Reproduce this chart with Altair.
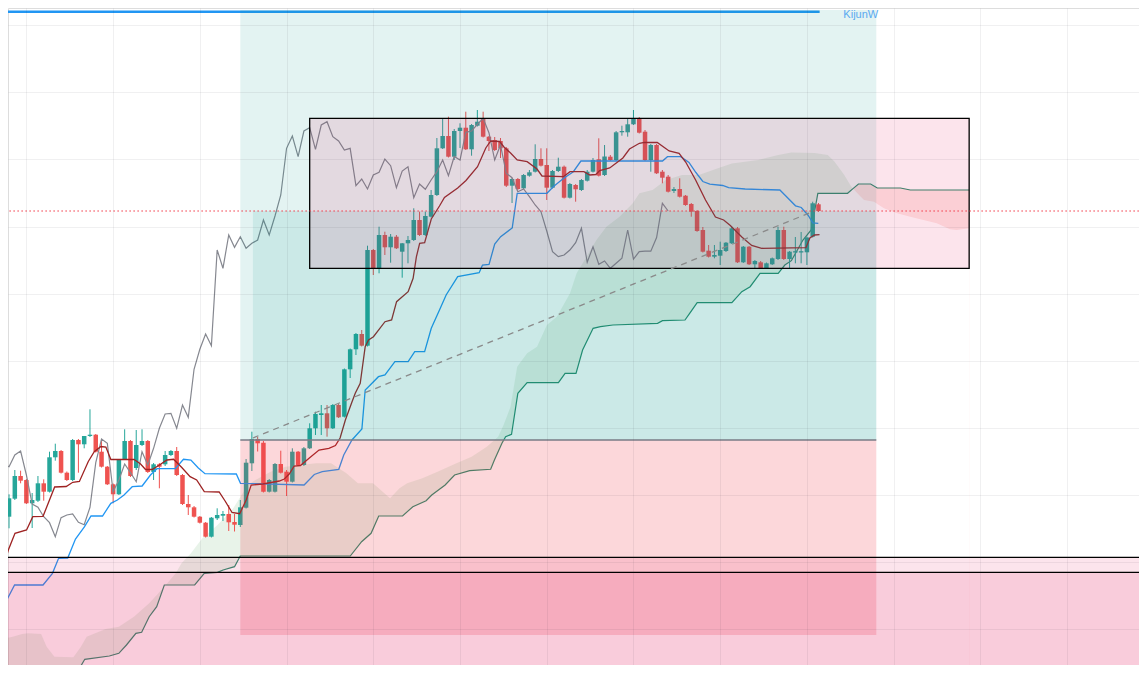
import altair as alt
import pandas as pd

# ---------------- candles (bar index 0..140), price units ----------------
opens = [156.3,174.3,197,193,169.7,172.3,189.7,181.3,215.7,222,
         200.3,193,233,228.7,237,238.3,221.3,206.3,188.7,178.7,
         213.7,232,205,228,232,201,208.7,208.7,218,222,
         198,169,165.7,156.3,150.3,136.3,154.7,157.3,159,151,
         148,165.3,209.7,234,230.3,181.3,181.3,209,201.3,191.3,
         221.3,208,224.7,244.7,258,259.7,244.7,268,256.3,303.7,
         323.7,339,327.3,423,404.7,438,425.7,436.3,421.3,429.7,
         433,453,438,456.3,478,524.7,537,516.3,542,545.3,
         523.7,547.3,554,536.3,533,532,524.7,487.3,494,484.7,
         497.3,501.3,514,508,485.3,502,506.3,475.3,488,483,
         492.3,501.3,513.7,498,516.3,513,540.7,540.7,548.7,554.7,
         541.3,513,528,501.3,496.3,482,484,477.3,469,462,
         443,422.3,416.3,417.3,422,429.7,444.7,410.7,426.3,408.7,
         410.7,404.7,408.7,414,443,414,420.5,420.5,420.7,436.3,
         468.7]
highs = [178.7,203,202.3,194,180,197,193.7,221.3,229.3,223,
         201.5,234,234,237,263.7,239,232,207,189.5,214,
         243.7,233,243,243.7,233,210,210,222,223,226,
         199,178,167,157,151,156,164.7,162,168,159,
         173,214,241.3,236,232,194,210,222.3,203,224.7,
         222,226,249.7,261.3,268,268,269,269,304.5,324.5,
         340,343,427.3,424,446.3,441.3,439,438,430,437,
         464.7,461.3,461.3,483,535,555,556.3,544,549.7,561.3,
         549,563,561.3,537,536,535,526,495,495,499,
         503,528.7,524.7,524.7,503,515.3,507.5,490,489,494,
         503,515,534.7,528,518,542,547.3,554.7,563,556,
         543,529,529,503,498,486,494.7,478,470,463,
         446,428,428,431.3,431,446.3,446,427,427,413,
         412,410.5,415.5,446.3,446.3,422,436,441,436.3,471.3,
         470]
lows = [144.7,173,189.7,169,145,171,172.3,180.5,212.3,199.5,
        192,192,200.3,224.7,236,220.5,205.5,188,169.7,178,
        213,196,203,227,200,193,184.7,207,217,197,
        168,158,155.5,149.5,135.5,135.5,153,152,142,141.5,
        146,164.5,202,221.5,180.5,180.5,180.5,199.5,177,190.5,
        207.2,207,224,238,238,236.3,244,255,255.5,295,
        318,326.5,326.5,398,399.7,418,410.3,424,395.3,409.7,
        432,437,437,455.5,477,524,515.5,513,525,523,
        517.3,546.5,535.5,522,522,515,486,470,483,484,
        496.3,500.5,506.5,473,484.5,501,474.5,474.5,471.3,482,
        491.5,500.5,496.5,497,512,512,537.3,536.3,548,539.5,
        512,501.3,499,489.7,480.5,480,475.5,467.2,456.3,441.2,
        420.5,415.5,414.7,408,421,429,410,410,408,404.7,
        404,404,408,413,413,405,409.7,409.7,408,435.5,
        461]
closes = [174.7,197,192.3,169.7,173,189.7,181.3,215.7,222,200.3,
          193,233,228.7,237,238.3,221.3,206.3,188.7,178.7,213.7,
          232,197,228,232,201,208.7,206.3,218,222,198,
          169,165.7,156.3,150.3,136.3,155.3,158,159,150.7,148.3,
          165.7,210.3,234,229.7,181.3,193,209,200.3,191.3,221.3,
          208,224.7,244.7,259,259.7,244.7,268,255.7,303.7,323.7,
          339,327.3,423,404.7,438,425.7,436.3,424.7,429.7,433,
          453,438,457,478,524.7,537,516.3,542,545.3,523.7,
          548,551.3,536.3,532,523,524.7,487.3,494,484,498,
          500.7,514,507.3,485.3,502,506.3,475.3,489,483.7,493,
          501.3,513,497.3,516.5,513,540.7,542,548.7,554.7,540.3,
          513,528,499.7,495.3,481.3,484,476.3,468,461.3,442,
          421.3,416.3,418,423,430.3,444.7,410.7,426.3,408.7,412,
          404.7,409.7,414.7,443,414,421.3,421.8,421.8,435.5,469.7,
          462]

# ---------------- indicator lines (bar, price) ----------------
tenkan = [(-0.69,111.3),(-0.12,123),(1.03,139.7),(3.03,143),(4.11,156.3),(5.88,156.7),(7.89,186),
          (9.89,186.5),(11.02,190.7),(12.17,191.5),(13.71,211.5),(14.74,221.3),(15.89,226.5),
          (16.75,226),(17.61,213.5),(21.6,213.7),(22.75,209),(23.61,203.5),(24.74,203.5),
          (25.89,207.5),(27.31,213),(28.46,213.7),(29.88,205.5),(31.32,196.3),(32.45,193),
          (33.77,181.3),(36.34,181),(37.37,172),(38.57,160.5),(39.89,159.3),(41.02,173),
          (41.88,188),(43.89,189),(46.75,192),(47.61,194),(48.46,199),(49.32,207),(50.4,207.5),
          (51.89,214.7),(53.61,223),(55.32,224.7),(56.45,227.5),(57.26,235),(58.17,253),
          (59.31,271),(59.88,279.7),(60.74,289.7),(61.6,326.3),(62.18,333),(63.03,336.3),
          (65.02,351.3),(66.17,353),(67.03,371.3),(69.03,381.3),(69.89,394.7),(70.46,416.3),
          (71.02,429.7),(71.88,430.3),(73.03,454),(74.45,467),(75.31,475.5),(77.6,485),
          (79.03,492.5),(81.03,506.3),(82.46,525),(83.31,532),(84.86,531.5),(85.6,526),
          (86.74,520),(87.89,513),(89.61,511.3),(91.32,504),(92.18,497),(95.88,496.3),
          (97.03,501.3),(99.43,501.3),(100.46,498),(101.49,498.5),(102.17,502.5),(103.89,505),
          (105.03,510),(106.17,515),(107.31,524),(109.03,529.7),(109.89,530.7),(112.11,530.5),
          (114.17,522),(115.89,519.7),(117.03,511),(118.75,493),(120.46,473),(122.18,456),
          (123.6,453),(124.75,447.5),(126.74,436),(128.45,427.5),(130.17,424.7),(137.83,425.3),
          (138.51,435),(139.32,438),(140.18,438.3)]

kijun = [(-0.69,69.7),(0.96,88),(5.88,88),(7.51,99.7),(8.57,114.7),(10.15,115),(11.49,134),
         (13.06,146.3),(14.18,157),(16.17,157),(17.61,169.7),(18.74,173),(19.89,178),(21.31,186.3),
         (23.02,187),(24.46,198),(25.59,204.3),(28.75,204.3),(30.17,213.7),(31.46,213),(32.74,205),
         (33.89,199.3),(39.31,199),(40.03,189.7),(51.03,188),(52.8,198.5),(54.17,201.3),
         (57.03,203.7),(57.89,218),(59.31,233),(61.03,244),(61.6,283),(62.18,286.3),(63.89,296.3),
         (65.02,298),(66.74,311.3),(69.03,311.3),(70.17,321.3),(71.88,321.3),(73.03,344.7),
         (74.45,363),(75.6,378),(77.6,396.3),(81.31,400.3),(81.89,408),(83.02,408.5),(84,429),
         (85.03,436.3),(87.03,445),(87.89,479.7),(93.03,479.7),(94.17,486.5),(95.88,494.5),
         (97.6,501.3),(98.91,512),(113.02,512),(113.88,516.3),(116.17,516.3),(117.6,510.5),
         (118.8,500.5),(120,491.5),(121.2,488.8),(123.43,487.5),(124.46,485.3),(127.32,484),
         (133.32,483),(134.31,477.2),(136.03,467.2),(137.02,465.5),(138.17,458),(139.03,450.2),
         (139.97,449.7)]

# leading span drawn with a line (teal) and the unlined cloud edge
span_line = [(6.86,0.7),(11.78,0.7),(13.1,13.7),(17.35,17),(18.99,19.7),(20.31,28),(21.94,39.7),
             (22.94,40.7),(24.24,56.3),(25.54,66.3),(26.86,88),(32.11,88),(33.77,99.7),(36.05,100.7),
             (37.03,103),(39,106.3),(39.99,117),(59.02,117),(60.98,131.3),(62.62,139.7),(63.94,157),
             (68.06,157),(69.84,166.3),(72.14,172.3),(73.11,178),(75.43,188),(77.06,198),(79.68,202.3),
             (83.3,203.7),(83.95,213),(85.25,229.7),(85.89,236.3),(86.91,238.7),(88,279.7),
             (89.61,290.3),(95.02,290.3),(96.17,299.7),(98.06,299.7),(99.2,323),(101.02,344.7),
             (102.29,346.3),(104.45,348),(112.17,349.7),(113.02,352.3),(116.91,353),(117.72,359.7),
             (119.02,370.3),(125.02,370.3),(126.74,381.3),(128.18,386.3),(129.89,399.7),
             (133.03,399.7),(134.18,408),(135.31,412.3),(137.32,433),(138.74,443),(139.89,479.7),
             (145.03,479.7),(145.97,484.4),(146.91,489),(149.02,489),(150.17,485),(154.17,485),
             (155.88,483),(166.06,483)]
span_edge = [(-0.69,34.7),(0.63,36.3),(2.26,39),(3.26,39.7),(5.55,39),(6.51,26.3),(7.85,16.3),
             (11.13,15.7),(12.43,26.3),(13.42,36.3),(16.7,44),(18.99,46.3),(21.6,56.3),(24.24,69.7),
             (26.86,86.3),(28.83,99.7),(29.83,109.7),(31.46,119.7),(33.43,134.7),(36.05,148),
             (38.67,163.7),(41.31,188),(42.62,193),(45.26,201.3),(47.86,206.3),(53.11,209.7),
             (55.71,209.7),(58.35,199.7),(60.34,189.7),(62.95,189.7),(65.9,174.7),(67.54,184.7),
             (68.86,189.7),(71.49,194.7),(74.11,201.3),(77.38,209.7),(80.01,216.3),(82.63,226.3),
             (84.6,236.3),(85.54,248),(86.74,266.3),(87.89,306.3),(89.61,319.7),(91.32,326.3),
             (93.03,348),(94.75,356.3),(97.03,379.7),(98.17,399.7),(99.89,416.3),(101.6,433),
             (103.32,446.3),(105.6,456.3),(107.88,469.7),(109.03,479.7),(111.31,483),(113.6,493),
             (116.4,498),(119.31,498),(122.74,505),(125.02,509.5),(129.6,513),(133.03,518),
             (135.31,520.5),(139.32,520),(141.6,518),(142.75,511.5),(144.46,498),(145.6,487),
             (145.97,484.4),(147.31,476.3),(147.89,473),(149.6,471.3),(151.32,464.7),(153.6,459.7),
             (155.88,456.3),(158.17,453),(160.46,449.7),(162.74,443.7),(163.89,443),(166.06,444.7)]
cloud_cross = 145.97
chikou_shift = 26

# ---------------- drawings ----------------
kijun_w = 661.3
kijun_w_end = 140.2
label_bar, label_price = 144.3, 664.5
pos_left, pos_right, pos_entry_bar = 40.0, 150.0, 42.17
entry_price, target_price, stop_price = 233.0, 663.0, 38.0
box_left, box_right, box_low, box_high = 52.0, 166.06, 404.7, 554.7
level_lines = [115.7, 100.7]
trend_bars, trend_prices = [42.17, 139.03], [235.0, 461.4]

grid_bars = [3, 18, 33, 48, 63, 78, 93, 108, 123, 138, 153, 168, 183]
grid_prices = [647.7, 580.6, 513.5, 446.4, 379.3, 312.2, 245.1, 178.0, 110.9, 43.8]
FAR_LEFT, FAR_RIGHT, FLOOR = -20, 220, -100

# ---------------- scales ----------------
xs = alt.Scale(domain=[0.6857, 194.571], nice=False, zero=False)
ys = alt.Scale(domain=[8, 665], nice=False, zero=False)


def axis(vals):
    return alt.Axis(values=vals, labels=False, ticks=False, domain=False, title=None,
                    grid=True, gridColor="#2a2e39", gridOpacity=0.07, gridWidth=1, zindex=1)


AX, AY = axis(grid_bars), axis(grid_prices)


def X(f):
    return alt.X(f"{f}:Q", scale=xs, axis=AX)


def Y(f):
    return alt.Y(f"{f}:Q", scale=ys, axis=AY)


# ---------------- frames ----------------
cdf = pd.DataFrame({"bar": list(range(len(opens))), "open": opens, "high": highs,
                    "low": lows, "close": closes})
cdf["dir"] = ["up" if c >= o else "down" for o, c in zip(opens, closes)]
chik = pd.DataFrame({"bar": [b - chikou_shift for b in cdf["bar"]], "val": closes})

s_line = pd.DataFrame(span_line, columns=["bar", "val"])
s_edge = pd.DataFrame(span_edge, columns=["bar", "val"])
s_line["base"] = FLOOR
s_edge["base"] = FLOOR
tk = pd.DataFrame(tenkan, columns=["bar", "val"])
kj = pd.DataFrame(kijun, columns=["bar", "val"])

layers = []


def area(df, color, opacity):
    return alt.Chart(df).mark_area(color=color, opacity=opacity, clip=True).encode(
        x=X("bar"), y=Y("val"), y2=alt.Y2("base"))


# cloud: green where the edge is above the line, red where it is below
layers.append(area(s_edge[s_edge.bar <= cloud_cross], "#43a047", 0.12))
layers.append(area(s_line[s_line.bar <= cloud_cross], "#ffffff", 1))
layers.append(area(s_line[s_line.bar >= cloud_cross], "#f44336", 0.13))
layers.append(area(s_edge[s_edge.bar >= cloud_cross], "#ffffff", 1))


def line(df, color, width, **kw):
    return alt.Chart(df).mark_line(color=color, strokeWidth=width, clip=True, **kw).encode(
        x=X("bar"), y=Y("val"))


layers.append(line(s_line, "#2a8c6e", 1.2))

ccol = alt.Color("dir:N", scale=alt.Scale(domain=["up", "down"], range=["#26a69a", "#ef5350"]),
                 legend=None)
layers.append(alt.Chart(cdf).mark_rule(strokeWidth=1, clip=True).encode(
    x=X("bar"), y=Y("low"), y2=alt.Y2("high"), color=ccol))
layers.append(alt.Chart(cdf).mark_bar(size=4.5, clip=True).encode(
    x=X("bar"), y=Y("open"), y2=alt.Y2("close"), color=ccol))

layers.append(line(chik, "#868890", 1.2))
layers.append(line(kj, "#2196f3", 1.3))
layers.append(line(tk, "#9e2222", 1.3))

kw = pd.DataFrame({"x0": [FAR_LEFT], "x1": [kijun_w_end], "y": [kijun_w]})
layers.append(alt.Chart(kw).mark_rule(color="#2196f3", strokeWidth=2.5, clip=True).encode(
    x=X("x0"), x2=alt.X2("x1"), y=Y("y")))


def rect(df, **kw):
    return alt.Chart(df).mark_rect(clip=True, **kw).encode(
        x=X("x0"), x2=alt.X2("x1"), y=Y("y0"), y2=alt.Y2("y1"))


# position tool
layers.append(rect(pd.DataFrame({"x0": [pos_left], "x1": [pos_right], "y0": [entry_price],
                                 "y1": [target_price]}), color="#00968a", opacity=0.11))
layers.append(rect(pd.DataFrame({"x0": [pos_entry_bar], "x1": [pos_right], "y0": [entry_price],
                                 "y1": [closes[-1]]}), color="#00968a", opacity=0.10))
layers.append(rect(pd.DataFrame({"x0": [pos_left], "x1": [pos_right], "y0": [stop_price],
                                 "y1": [entry_price]}), color="#f23645", opacity=0.2))

# pink bands below the two levels
for lv in level_lines:
    layers.append(rect(pd.DataFrame({"x0": [FAR_LEFT], "x1": [FAR_RIGHT], "y0": [FLOOR],
                                     "y1": [lv]}), color="#e91e63", opacity=0.12))

# range rectangle
layers.append(rect(pd.DataFrame({"x0": [box_left], "x1": [box_right], "y0": [box_low],
                                 "y1": [box_high]}),
                   fill="#e91e63", fillOpacity=0.12, stroke="#000000", strokeWidth=1.3))

# entry line
layers.append(alt.Chart(pd.DataFrame({"x0": [pos_left], "x1": [pos_right], "y": [entry_price]}))
              .mark_rule(color="#787b86", strokeWidth=1.5, clip=True)
              .encode(x=X("x0"), x2=alt.X2("x1"), y=Y("y")))

# horizontal levels
layers.append(alt.Chart(pd.DataFrame({"x0": FAR_LEFT, "x1": FAR_RIGHT, "y": level_lines}))
              .mark_rule(color="#000000", strokeWidth=1.2, clip=True)
              .encode(x=X("x0"), x2=alt.X2("x1"), y=Y("y")))

# last price line
layers.append(alt.Chart(pd.DataFrame({"x0": [FAR_LEFT], "x1": [FAR_RIGHT], "y": [closes[-1]]}))
              .mark_rule(color="#f23645", strokeWidth=1, strokeDash=[1.5, 2.5], clip=True)
              .encode(x=X("x0"), x2=alt.X2("x1"), y=Y("y")))

# trend line
layers.append(line(pd.DataFrame({"bar": trend_bars, "val": trend_prices}), "#8a8a8a", 1.3,
                   strokeDash=[6, 5]))

# label
layers.append(alt.Chart(pd.DataFrame({"bar": [label_bar], "val": [label_price], "t": ["KijunW"]}))
              .mark_text(align="left", baseline="top", fontSize=11, color="#5aa9f0",
                         font="Liberation Sans")
              .encode(x=X("bar"), y=Y("val"), text="t:N"))

chart = (alt.layer(*layers)
         .properties(width=1131, height=657, padding=0,
                     autosize=alt.AutoSizeParams(type="none"))
         .configure_view(stroke=None, strokeWidth=0)
         .configure(background="#ffffff"))

chart.save("out.html", embed_options={"renderer": "svg", "actions": False})
